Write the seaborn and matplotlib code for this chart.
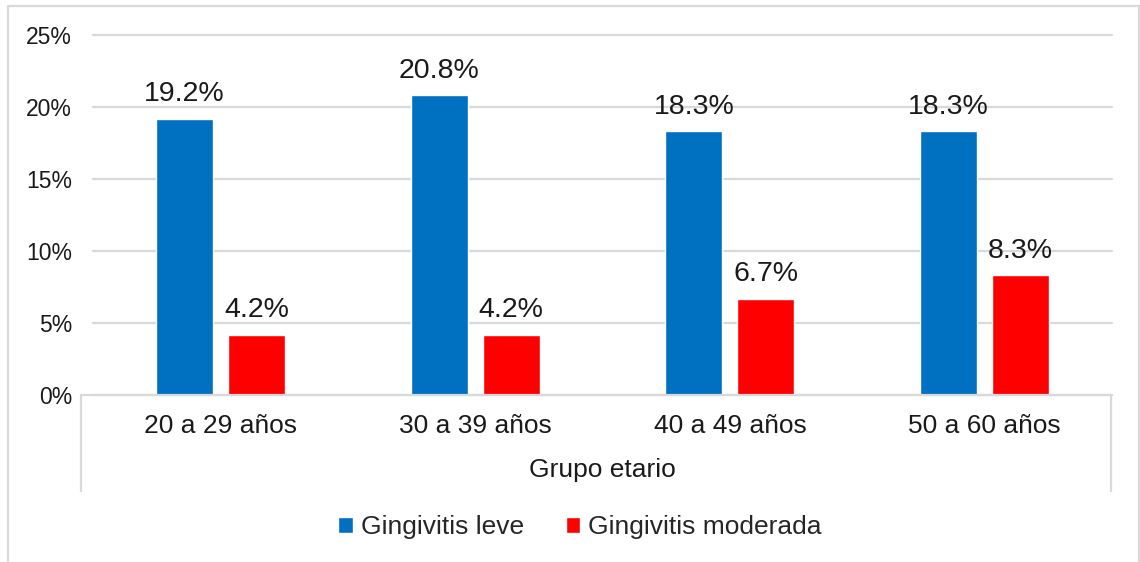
import pandas as pd
import seaborn as sns
import matplotlib.pyplot as plt
from matplotlib.lines import Line2D

# datos del grafico
grupos = ["20 a 29 años", "30 a 39 años", "40 a 49 años", "50 a 60 años"]
leve = [19.2, 20.8, 18.3, 18.3]
moderada = [4.2, 4.2, 6.7, 8.3]
series = ["Gingivitis leve", "Gingivitis moderada"]
colores = ["#0070C0", "#FF0000"]
yticks = [0, 5, 10, 15, 20, 25]

df = pd.DataFrame({
    "grupo": grupos * 2,
    "valor": leve + moderada,
    "tipo": [series[0]] * len(grupos) + [series[1]] * len(grupos),
})

sns.set_style("white")
plt.rcParams["font.family"] = ["Liberation Sans", "DejaVu Sans"]
gris = "#D9D9D9"

W, H = 1140, 562
fig = plt.figure(figsize=(W / 100, H / 100), dpi=100)
ax = fig.add_axes([93 / W, 1 - 395 / H, (1112 - 93) / W, (395 - 35) / H])

sns.barplot(data=df, x="grupo", y="valor", hue="tipo", palette=colores,
            saturation=1, width=0.565, gap=0.21, ax=ax)

for cont in ax.containers:
    ax.bar_label(cont, fmt="%.1f%%", padding=8, fontsize=20.5, color="#1a1a1a")

ax.set_ylim(0, 25)
ax.set_yticks(yticks)
ax.set_yticklabels([f"{v}%" for v in yticks])
ax.tick_params(axis="y", length=0, pad=15, labelsize=16.5, labelcolor="#1a1a1a")
ax.tick_params(axis="x", length=0, pad=14, labelsize=19, labelcolor="#1a1a1a")
ax.yaxis.grid(True, color=gris, lw=1.6)
for gl in ax.get_ygridlines():
    gl.set_clip_on(False)
ax.set_axisbelow(True)
for s in ax.spines.values():
    s.set_visible(False)
ax.set_ylabel("")
ax.set_xlabel("Grupo etario", fontsize=19, color="#1a1a1a", labelpad=14)

handles, labels = ax.get_legend_handles_labels()
ax.get_legend().remove()
fig.legend(handles, labels, loc="center", bbox_to_anchor=(580 / W, 1 - 527 / H),
           ncol=2, frameon=False, fontsize=19, handlelength=0.55, handleheight=0.55,
           handletextpad=0.3, columnspacing=1.6)

# eje de categorias y borde del grafico
def linea(x0, y0, x1, y1):
    fig.add_artist(Line2D([x0 / W, x1 / W], [1 - y0 / H, 1 - y1 / H],
                          color=gris, lw=1.6, transform=fig.transFigure))

linea(81, 395, 1112, 395)
linea(81, 395, 81, 491)
linea(1111, 395, 1111, 491)
linea(8, 6, 1139, 6)
linea(8, 6, 8, 562)
linea(1139, 6, 1139, 562)

fig.savefig("out.png", dpi=100)
